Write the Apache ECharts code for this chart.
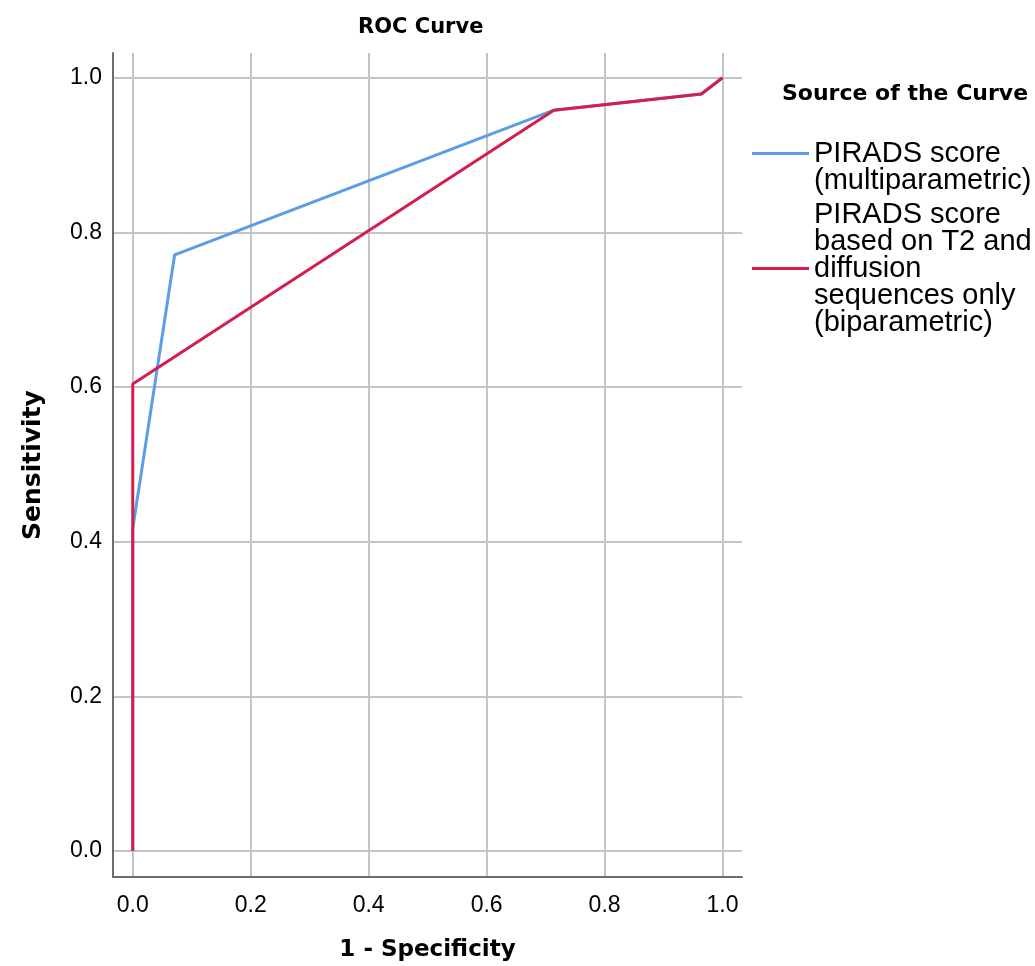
<!DOCTYPE html>
<html>
<head>
<meta charset="utf-8">
<script src="https://cdn.jsdelivr.net/npm/echarts@6/dist/echarts.min.js"></script>
<style>
  html, body { margin: 0; padding: 0; background: #fff; }
  #roc { width: 1035px; height: 966px; }
</style>
</head>
<body>
<div id="roc"></div>
<script>
/* ---- data ---- */
const tickValues = [0, 0.2, 0.4, 0.6, 0.8, 1.0];

const seriesNames = [
  'PIRADS score\n(multiparametric)',
  'PIRADS score\nbased on T2 and\ndiffusion\nsequences only\n(biparametric)'
];

// 1 - specificity / sensitivity
const multiFpr  = [0, 0, 0.071, 0.714, 0.964, 1];
const multiTpr  = [0, 0.417, 0.771, 0.958, 0.979, 1];
const biFpr     = [0, 0, 0.714, 0.964, 1];
const biTpr     = [0, 0.604, 0.958, 0.979, 1];

const toPairs = (xs, ys) => xs.map((x, i) => [x, ys[i]]);

/* ---- chart ---- */
const chart = echarts.init(document.getElementById('roc'));

const axisCommon = {
  type: 'value',
  min: -0.0335,
  max: 1.033,
  nameLocation: 'middle',
  axisLine: { show: true, onZero: false, lineStyle: { color: '#6e6e6e', width: 2 } },
  axisTick: { show: false, customValues: tickValues },
  axisLabel: {
    customValues: tickValues,
    formatter: v => v.toFixed(1),
    color: '#000',
    fontFamily: 'Liberation Sans',
    fontSize: 23
  },
  splitLine: { show: true, lineStyle: { color: '#c4c4c4', width: 2 } },
  nameTextStyle: {
    color: '#000',
    fontFamily: 'DejaVu Sans',
    fontWeight: 'bold',
    fontSize: 23
  }
};

chart.setOption({
  backgroundColor: '#fff',
  animation: false,
  title: [
    {
      text: 'ROC Curve',
      left: 353, top: 12,
      textStyle: { fontFamily: 'DejaVu Sans', fontWeight: 'bold', fontSize: 21, color: '#000' }
    },
    {
      text: 'Source of the Curve',
      left: 777, top: 78,
      textStyle: { fontFamily: 'DejaVu Sans', fontWeight: 'bold', fontSize: 22, color: '#000' }
    }
  ],
  legend: {
    orient: 'vertical',
    left: 752, top: 112,
    padding: 0,
    itemWidth: 57,
    itemHeight: 3,
    itemGap: 5,
    icon: 'rect',
    data: seriesNames,
    formatter: name => name === seriesNames[0] ? '\n' + name : name,
    textStyle: {
      color: '#000',
      fontFamily: 'Liberation Sans',
      fontSize: 29,
      lineHeight: 27
    }
  },
  grid: { left: 113, right: 293, top: 53, bottom: 89, outerBoundsMode: 'none' },
  xAxis: Object.assign({}, axisCommon, {
    name: '1 - Specificity',
    nameGap: 62,
    axisLabel: Object.assign({}, axisCommon.axisLabel, { margin: 17 })
  }),
  yAxis: Object.assign({}, axisCommon, {
    min: -0.0336,
    max: 1.032,
    name: 'Sensitivity',
    nameGap: 67,
    axisLabel: Object.assign({}, axisCommon.axisLabel, { margin: 11 }),
    nameTextStyle: Object.assign({}, axisCommon.nameTextStyle, { fontSize: 25 })
  }),
  series: [
    {
      name: seriesNames[0],
      type: 'line',
      data: toPairs(multiFpr, multiTpr),
      symbol: 'none',
      color: '#5a9ee8',
      lineStyle: { width: 3, color: '#5a9ee8' }
    },
    {
      name: seriesNames[1],
      type: 'line',
      data: toPairs(biFpr, biTpr),
      symbol: 'none',
      color: '#d41e4e',
      lineStyle: { width: 3, color: '#d41e4e' }
    }
  ]
});
</script>
</body>
</html>
